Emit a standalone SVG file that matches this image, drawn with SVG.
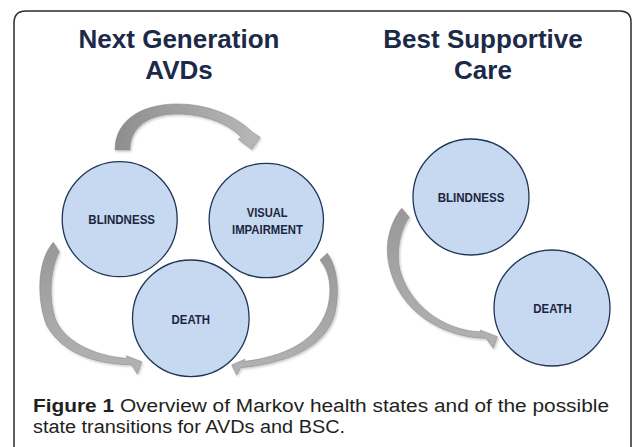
<svg xmlns="http://www.w3.org/2000/svg" width="633" height="447" viewBox="0 0 633 447">
<style>
.frame{fill:none;stroke:#2b2b2b;stroke-width:1.5}
.title{font-family:"Liberation Sans",Arial,sans-serif;font-weight:bold;font-size:26px;fill:#1b2a48;text-anchor:middle}
.state{fill:#c6d9f0;stroke:#1f3558;stroke-width:1.3}
.lbl{font-family:"Liberation Sans",Arial,sans-serif;font-weight:bold;font-size:13px;fill:#1c2640;text-anchor:middle}
.arrow{stroke:#8a8a8a;stroke-width:0.6;filter:url(#sh)}
.cap{font-family:"Liberation Sans",Arial,sans-serif;font-size:18px;fill:#231f20}
</style>
<defs>
<linearGradient id="gTop" x1="0" y1="0" x2="1" y2="0">
<stop offset="0" stop-color="#8e8e8e"/>
<stop offset="1" stop-color="#b8b8b8"/>
</linearGradient>
<linearGradient id="gSide" x1="0" y1="0" x2="0" y2="1">
<stop offset="0" stop-color="#989898"/>
<stop offset="1" stop-color="#b3b3b3"/>
</linearGradient>
<filter id="sh" x="-20%" y="-20%" width="140%" height="140%">
<feDropShadow dx="1.2" dy="1.5" stdDeviation="1" flood-color="#000" flood-opacity="0.22"/>
</filter>
</defs>
<rect width="633" height="447" fill="#ffffff"/>
<path class="frame" d="M14,470 L14,23 Q14,11 26,11 L620,11 Q631,11 631,22 L631,470"/>
<g id="titles">
<text class="title" x="179" y="47.5">Next Generation</text>
<text class="title" x="179" y="78.5">AVDs</text>
<text class="title" x="483" y="47.5">Best Supportive</text>
<text class="title" x="483" y="78.5">Care</text>
</g>
<g id="connectors">
<path class="arrow" fill="url(#gTop)" d="M115,150 C115,118 145,104 177,104 C208,104 236,116 251.5,131.5 L260,137.3 L251.7,149.3 L238.3,139.3 L241.5,137.5 C229,124 205,114 177,114 C150,114 130,126 130,150 Z"/>
<path class="arrow" fill="url(#gSide)" d="M53.3,242.3 L59.3,251.7 C51,268 48,295 55,318 C63,340 92,356 127.7,358.4 L126,355.7 L141.7,361.7 L137.3,374 L131.6,364.8 C92,364 62,352 47,326 C37,302 36,262 53.3,242.3 Z"/>
<path class="arrow" fill="url(#gSide)" d="M320,260 L327.3,253.3 C337,266 340,290 335,313 C328,340 300,362 240.4,367.7 L236.7,375 L231.7,365 L245,359.3 L243.8,361.6 C295,355 320,335 328,306 C332,288 330,272 320,260 Z"/>
<path class="arrow" fill="url(#gSide)" d="M401.7,208.3 L409.3,217.3 C400,230 397,250 399,265 C403,290 425,318 458,328 C468,331 474,331.5 481.3,331.8 L480,330 L497.3,336.7 L493.3,348.3 L486,338.2 C460,338 432,328 412,308 C392,288 385,260 388,240 C390,228 395,216 401.7,208.3 Z"/>
</g>
<g id="avd-blindness">
<circle class="state" cx="119.7" cy="219.2" r="57.5"/>
<text class="lbl" x="121.7" y="223.5" textLength="66.7" lengthAdjust="spacingAndGlyphs">BLINDNESS</text>
</g>
<g id="avd-visual-impairment">
<circle class="state" cx="266.3" cy="220.5" r="57.2"/>
<text class="lbl" x="267.2" y="216.7" textLength="41" lengthAdjust="spacingAndGlyphs">VISUAL</text>
<text class="lbl" x="267.5" y="233.5" textLength="71" lengthAdjust="spacingAndGlyphs">IMPAIRMENT</text>
</g>
<g id="avd-death">
<circle class="state" cx="190.8" cy="318.3" r="58.3"/>
<text class="lbl" x="190.8" y="324.3" textLength="38.4" lengthAdjust="spacingAndGlyphs">DEATH</text>
</g>
<g id="bsc-blindness">
<circle class="state" cx="471" cy="197" r="58"/>
<text class="lbl" x="471" y="201.7" textLength="66.7" lengthAdjust="spacingAndGlyphs">BLINDNESS</text>
</g>
<g id="bsc-death">
<circle class="state" cx="552" cy="308" r="58"/>
<text class="lbl" x="552.5" y="312.7" textLength="38.4" lengthAdjust="spacingAndGlyphs">DEATH</text>
</g>
<g id="caption">
<text class="cap" x="33" y="411.5" textLength="576" lengthAdjust="spacingAndGlyphs"><tspan font-weight="bold">Figure 1</tspan> Overview of Markov health states and of the possible</text>
<text class="cap" x="33" y="433" textLength="312" lengthAdjust="spacingAndGlyphs">state transitions for AVDs and BSC.</text>
</g>
</svg>
